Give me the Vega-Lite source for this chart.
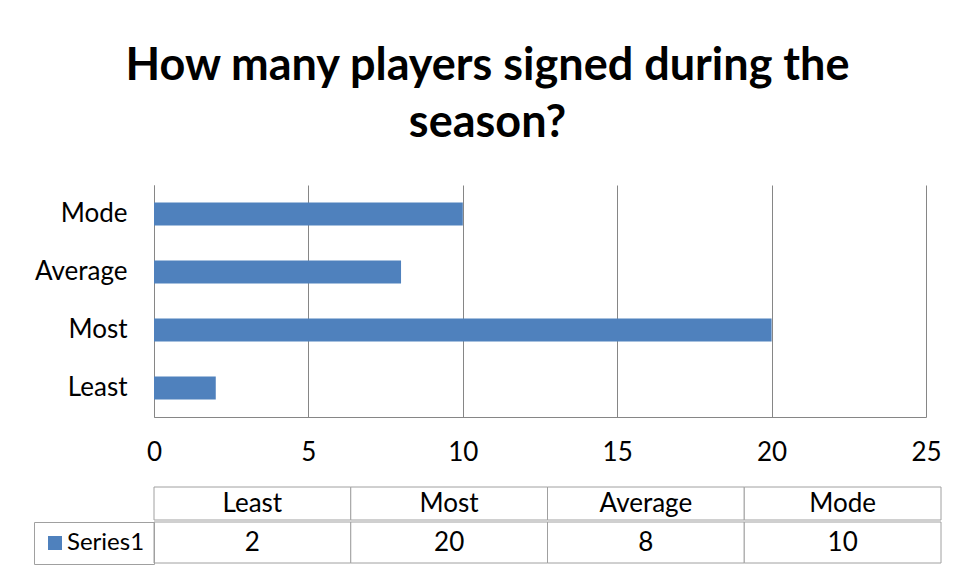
{
  "$schema": "https://vega.github.io/schema/vega-lite/v6.json",
  "background": "white",
  "padding": {"left": 33, "top": 44, "right": 5, "bottom": 5},
  "datasets": {
    "main": [
      {"category": "Least", "value": 2, "series": "Series1"},
      {"category": "Most", "value": 20, "series": "Series1"},
      {"category": "Average", "value": 8, "series": "Series1"},
      {"category": "Mode", "value": 10, "series": "Series1"}
    ]
  },
  "title": {
    "text": ["How many players signed during the", "season?"],
    "font": "Lato",
    "fontSize": 45,
    "fontWeight": "bold",
    "color": "black",
    "lineHeight": 57,
    "anchor": "middle",
    "baseline": "top",
    "offset": 39
  },
  "spacing": 0,
  "resolve": {"legend": {"color": "independent"}, "scale": {"color": "independent"}},
  "vconcat": [
    {
      "width": 772,
      "height": 232,
      "data": {"name": "main"},
      "mark": {"type": "bar", "color": "#4F81BD"},
      "encoding": {
        "y": {
          "field": "category",
          "type": "nominal",
          "sort": ["Mode", "Average", "Most", "Least"],
          "scale": {"paddingInner": 0.6, "paddingOuter": 0.3},
          "axis": {
            "title": null,
            "domainColor": "#868686",
            "ticks": false,
            "labelPadding": 27,
            "labelFontSize": 26,
            "labelFont": "Lato",
            "labelColor": "black",
            "grid": false
          }
        },
        "x": {
          "field": "value",
          "type": "quantitative",
          "scale": {"domain": [0, 25], "nice": false},
          "axis": {
            "values": [0, 5, 10, 15, 20, 25],
            "title": " ",
            "titleFontSize": 1,
            "titlePadding": 20,
            "grid": true,
            "gridColor": "#868686",
            "domainColor": "#868686",
            "ticks": false,
            "labelPadding": 22,
            "labelFontSize": 26,
            "labelFont": "Lato",
            "labelColor": "black",
            "labelFlush": false,
            "labelOverlap": false
          }
        }
      }
    },
    {
      "width": 787,
      "height": 33,
      "data": {"name": "main"},
      "encoding": {
        "x": {
          "field": "category",
          "type": "nominal",
          "sort": ["Least", "Most", "Average", "Mode"],
          "scale": {"paddingInner": 0, "paddingOuter": 0},
          "axis": null
        }
      },
      "layer": [
        {"mark": {"type": "rect", "fill": "white", "stroke": "#a0a0a0", "strokeWidth": 1}},
        {
          "mark": {"type": "text", "font": "Lato", "fontSize": 26, "color": "black", "baseline": "middle"},
          "encoding": {"text": {"field": "category"}}
        }
      ]
    },
    {
      "width": 787,
      "height": 41,
      "data": {"name": "main"},
      "encoding": {
        "x": {
          "field": "category",
          "type": "nominal",
          "sort": ["Least", "Most", "Average", "Mode"],
          "scale": {"paddingInner": 0, "paddingOuter": 0},
          "axis": null
        }
      },
      "layer": [
        {"mark": {"type": "rect", "fill": "white", "stroke": "#a0a0a0", "strokeWidth": 1}},
        {
          "mark": {"type": "text", "font": "Lato", "fontSize": 26, "color": "black", "baseline": "middle"},
          "encoding": {"text": {"field": "value", "type": "quantitative"}}
        },
        {
          "mark": {"type": "point", "filled": true, "size": 0, "opacity": 1},
          "encoding": {
            "color": {
              "field": "series",
              "type": "nominal",
              "scale": {"range": ["#4F81BD"]},
              "legend": {
                "orient": "left",
                "offset": 0,
                "title": null,
                "strokeColor": "#a0a0a0",
                "padding": 9,
                "symbolType": "square",
                "symbolSize": 196,
                "symbolStrokeWidth": 0,
                "labelFont": "Lato",
                "labelFontSize": 24,
                "labelColor": "black",
                "labelOffset": 0
              }
            }
          }
        }
      ]
    }
  ],
  "config": {"view": {"stroke": null}}
}
